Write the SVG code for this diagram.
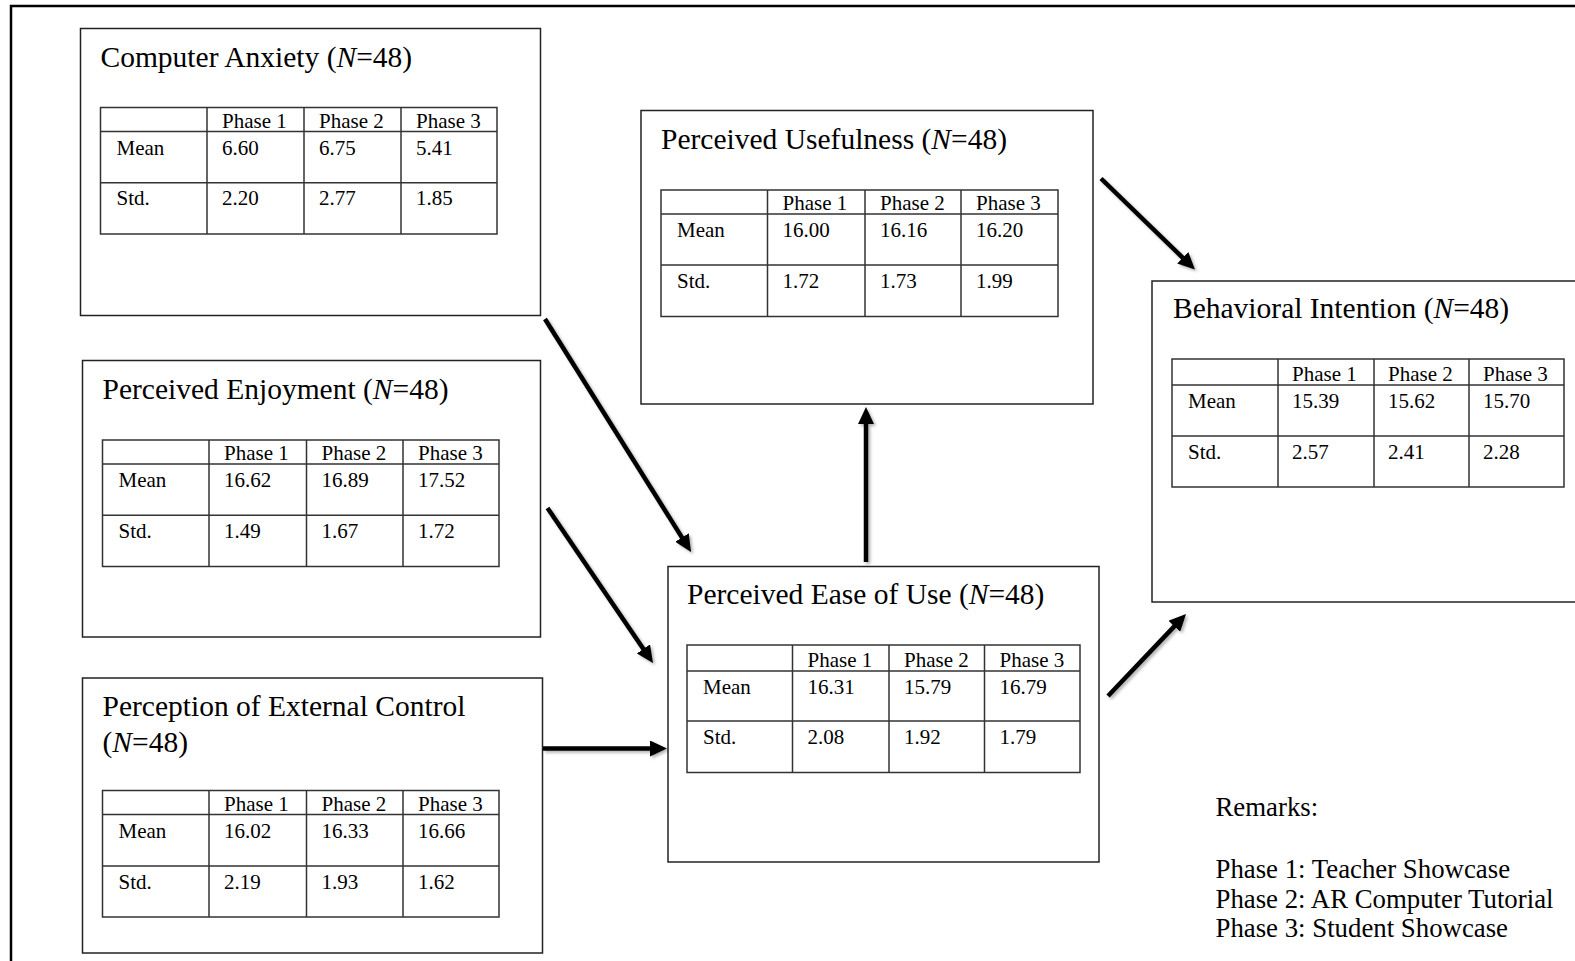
<svg xmlns="http://www.w3.org/2000/svg" width="1575" height="961" viewBox="0 0 1575 961">
  <style>
    .frame { fill: none; stroke: #000; stroke-width: 2.5; }
    .box { fill: #fff; stroke: #222; stroke-width: 1.5; }
    .grid { fill: none; stroke: #333; stroke-width: 1.5; }
    .title { font-family: "Liberation Serif", "Times New Roman", serif; font-size: 29.5px; fill: #000; }
    .cell { font-family: "Liberation Serif", "Times New Roman", serif; font-size: 21px; fill: #000; }
    .note { font-family: "Liberation Serif", "Times New Roman", serif; font-size: 26.8px; fill: #000; }
    .it { font-style: italic; }
    .arrow { stroke: #000; stroke-width: 4.5; fill: none; marker-end: url(#head); }
  </style>
  <defs>
    <marker id="head" viewBox="0 0 17 16" refX="3" refY="8" markerWidth="17" markerHeight="16" markerUnits="userSpaceOnUse" orient="auto">
      <path d="M0,0 L17,8 L0,16 Z" fill="#000"/>
    </marker>
    <filter id="shadow" x="-20%" y="-20%" width="140%" height="140%">
      <feDropShadow dx="2" dy="2" stdDeviation="1.5" flood-color="#000" flood-opacity="0.3"/>
    </filter>
  </defs>

  <rect x="0" y="0" width="1575" height="961" fill="#fff"/>
  <rect class="frame" x="11" y="6" width="1700" height="1100"/>

  <!-- Computer Anxiety -->
  <g id="computer-anxiety">
    <rect class="box" x="80.5" y="28.5" width="460" height="287"/>
    <text class="title" x="100.5" y="66.5">Computer Anxiety (<tspan class="it">N</tspan>=48)</text>
    <g class="grid">
      <rect x="100.5" y="107.5" width="396.5" height="126.5"/>
      <path d="M100.5,131.6 H497 M100.5,182.8 H497 M207,107.5 V234 M304,107.5 V234 M401,107.5 V234"/>
    </g>
    <g class="cell">
      <text x="222" y="127.6">Phase 1</text><text x="319" y="127.6">Phase 2</text><text x="416" y="127.6">Phase 3</text>
      <text x="116.5" y="154.6">Mean</text><text x="222" y="154.6">6.60</text><text x="319" y="154.6">6.75</text><text x="416" y="154.6">5.41</text>
      <text x="116.5" y="205.3">Std.</text><text x="222" y="205.3">2.20</text><text x="319" y="205.3">2.77</text><text x="416" y="205.3">1.85</text>
    </g>
  </g>

  <!-- Perceived Enjoyment -->
  <g id="perceived-enjoyment">
    <rect class="box" x="82.5" y="360.5" width="458" height="276.5"/>
    <text class="title" x="102.5" y="399">Perceived Enjoyment (<tspan class="it">N</tspan>=48)</text>
    <g class="grid">
      <rect x="102.5" y="440" width="396.5" height="126.5"/>
      <path d="M102.5,464 H499 M102.5,515.3 H499 M209,440 V566.5 M306.5,440 V566.5 M403,440 V566.5"/>
    </g>
    <g class="cell">
      <text x="224" y="460">Phase 1</text><text x="321.5" y="460">Phase 2</text><text x="418" y="460">Phase 3</text>
      <text x="118.5" y="487">Mean</text><text x="224" y="487">16.62</text><text x="321.5" y="487">16.89</text><text x="418" y="487">17.52</text>
      <text x="118.5" y="537.8">Std.</text><text x="224" y="537.8">1.49</text><text x="321.5" y="537.8">1.67</text><text x="418" y="537.8">1.72</text>
    </g>
  </g>

  <!-- Perception of External Control -->
  <g id="perception-external-control">
    <rect class="box" x="82.5" y="678" width="460" height="275"/>
    <text class="title" x="102.5" y="716">Perception of External Control</text>
    <text class="title" x="102.5" y="752">(<tspan class="it">N</tspan>=48)</text>
    <g class="grid">
      <rect x="102.5" y="790.5" width="396.5" height="126.5"/>
      <path d="M102.5,814.6 H499 M102.5,866 H499 M209,790.5 V917 M306.5,790.5 V917 M403,790.5 V917"/>
    </g>
    <g class="cell">
      <text x="224" y="810.6">Phase 1</text><text x="321.5" y="810.6">Phase 2</text><text x="418" y="810.6">Phase 3</text>
      <text x="118.5" y="837.6">Mean</text><text x="224" y="837.6">16.02</text><text x="321.5" y="837.6">16.33</text><text x="418" y="837.6">16.66</text>
      <text x="118.5" y="888.5">Std.</text><text x="224" y="888.5">2.19</text><text x="321.5" y="888.5">1.93</text><text x="418" y="888.5">1.62</text>
    </g>
  </g>

  <!-- Perceived Usefulness -->
  <g id="perceived-usefulness">
    <rect class="box" x="641" y="110.5" width="452" height="293.5"/>
    <text class="title" x="661" y="149">Perceived Usefulness (<tspan class="it">N</tspan>=48)</text>
    <g class="grid">
      <rect x="661" y="190" width="397" height="126.5"/>
      <path d="M661,214 H1058 M661,265 H1058 M767.5,190 V316.5 M865,190 V316.5 M961,190 V316.5"/>
    </g>
    <g class="cell">
      <text x="782.5" y="210">Phase 1</text><text x="880" y="210">Phase 2</text><text x="976" y="210">Phase 3</text>
      <text x="677" y="237">Mean</text><text x="782.5" y="237">16.00</text><text x="880" y="237">16.16</text><text x="976" y="237">16.20</text>
      <text x="677" y="287.5">Std.</text><text x="782.5" y="287.5">1.72</text><text x="880" y="287.5">1.73</text><text x="976" y="287.5">1.99</text>
    </g>
  </g>

  <!-- Perceived Ease of Use -->
  <g id="perceived-ease-of-use">
    <rect class="box" x="668" y="566.5" width="431" height="295.5"/>
    <text class="title" x="687" y="604">Perceived Ease of Use (<tspan class="it">N</tspan>=48)</text>
    <g class="grid">
      <rect x="687" y="645" width="393" height="127.5"/>
      <path d="M687,671 H1080 M687,721 H1080 M792.5,645 V772.5 M889,645 V772.5 M984.5,645 V772.5"/>
    </g>
    <g class="cell">
      <text x="807.5" y="666.5">Phase 1</text><text x="904" y="666.5">Phase 2</text><text x="999.5" y="666.5">Phase 3</text>
      <text x="703" y="693.5">Mean</text><text x="807.5" y="693.5">16.31</text><text x="904" y="693.5">15.79</text><text x="999.5" y="693.5">16.79</text>
      <text x="703" y="743.5">Std.</text><text x="807.5" y="743.5">2.08</text><text x="904" y="743.5">1.92</text><text x="999.5" y="743.5">1.79</text>
    </g>
  </g>

  <!-- Behavioral Intention -->
  <g id="behavioral-intention">
    <rect class="box" x="1152" y="281" width="500" height="321"/>
    <text class="title" x="1173" y="317.5">Behavioral Intention (<tspan class="it">N</tspan>=48)</text>
    <g class="grid">
      <rect x="1172" y="359" width="392" height="128"/>
      <path d="M1172,385 H1564 M1172,436 H1564 M1278,359 V487 M1374,359 V487 M1469,359 V487"/>
    </g>
    <g class="cell">
      <text x="1292" y="380.5">Phase 1</text><text x="1388" y="380.5">Phase 2</text><text x="1483" y="380.5">Phase 3</text>
      <text x="1188" y="408">Mean</text><text x="1292" y="408">15.39</text><text x="1388" y="408">15.62</text><text x="1483" y="408">15.70</text>
      <text x="1188" y="458.5">Std.</text><text x="1292" y="458.5">2.57</text><text x="1388" y="458.5">2.41</text><text x="1483" y="458.5">2.28</text>
    </g>
  </g>

  <!-- Remarks -->
  <g id="remarks" class="note">
    <text x="1215.5" y="816">Remarks:</text>
    <text x="1215.5" y="878">Phase 1: Teacher Showcase</text>
    <text x="1215.5" y="907.5">Phase 2: AR Computer Tutorial</text>
    <text x="1215.5" y="937">Phase 3: Student Showcase</text>
  </g>

  <!-- Connectors -->
  <g id="connectors" filter="url(#shadow)">
    <line class="arrow" x1="545" y1="319" x2="683.6" y2="540.1"/>
    <line class="arrow" x1="547.5" y1="508" x2="645.1" y2="651.4"/>
    <line class="arrow" x1="543" y1="748.5" x2="653" y2="748.5"/>
    <line class="arrow" x1="866" y1="562" x2="866" y2="421"/>
    <line class="arrow" x1="1101" y1="178.5" x2="1184.9" y2="259.8"/>
    <line class="arrow" x1="1108" y1="696" x2="1176.4" y2="624.1"/>
  </g>
</svg>
